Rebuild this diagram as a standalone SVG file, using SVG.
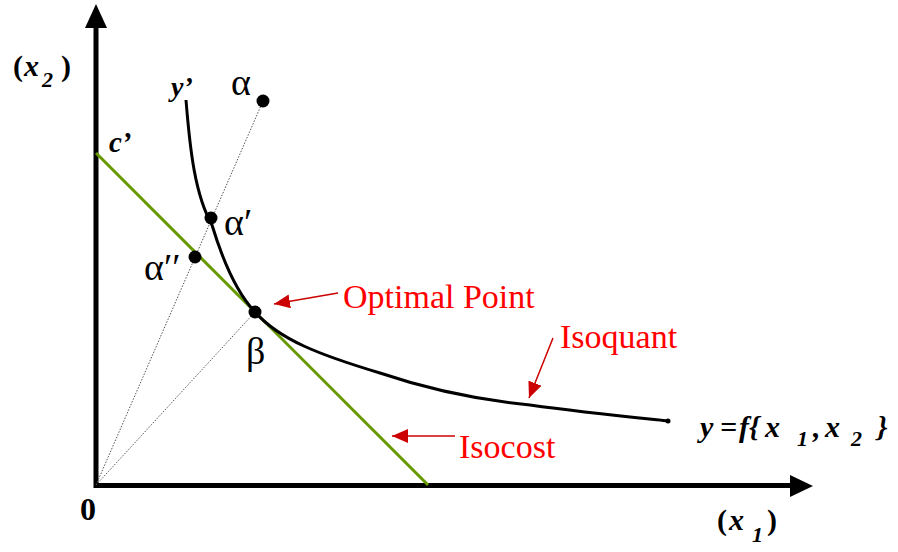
<svg xmlns="http://www.w3.org/2000/svg" width="898" height="552" viewBox="0 0 898 552">
<defs>
<style>
text{font-family:'Liberation Serif',serif}
.lab{font-weight:bold;font-style:italic;fill:#000}
.bold{font-weight:bold;fill:#000}
.greek{font-size:38px;fill:#000}
.red{font-size:34px;fill:#FF0000}
.dot{fill:#000}
.dotted{stroke:#555;stroke-width:1;stroke-dasharray:1.5 1.5;fill:none}
.redline{stroke:#CC0000;stroke-width:1.5;fill:none}
</style>
<marker id="rarrow2" viewBox="0 0 16 14" refX="16" refY="7" markerWidth="16" markerHeight="14" markerUnits="userSpaceOnUse" orient="auto">
<path d="M0,0 L16,7 L0,14 z" fill="#CC0000"/>
</marker>
</defs>
<rect width="898" height="552" fill="#fff"/>

<g id="axes">
<line x1="96" y1="488" x2="96" y2="24" stroke="#000" stroke-width="5"/>
<polygon points="96,4 85,28 107,28" fill="#000"/>
<line x1="94" y1="485.5" x2="792" y2="485.5" stroke="#000" stroke-width="5"/>
<polygon points="813,486 790,475 790,497" fill="#000"/>
<text class="bold" x="80" y="520" font-size="32">0</text>
<text class="bold" x="13" y="76" font-size="30">(<tspan x="24" font-style="italic">x</tspan><tspan x="42" y="87" font-size="22" font-style="italic">2</tspan><tspan x="61" y="76">)</tspan></text>
<text class="bold" x="717" y="530" font-size="30">(<tspan x="729" font-style="italic">x</tspan><tspan x="752" y="542" font-size="22" font-style="italic">1</tspan><tspan x="767" y="530">)</tspan></text>
</g>

<g id="connectors">
<line class="dotted" x1="96" y1="485" x2="263" y2="101"/>
<line class="dotted" x1="96" y1="485" x2="255" y2="312"/>
<line x1="96" y1="153" x2="428" y2="485" stroke="#669900" stroke-width="3"/>
<path d="M186,100 C190,150 195,195 212,225 C222,258 236,292 255,312 C280,340 320,355 380,373 C430,390 480,400 530,405 C580,412 620,416 668,421" stroke="#000" stroke-width="3" fill="none"/>
<circle cx="668" cy="421" r="2.5" class="dot"/>
<line class="redline" x1="338" y1="293" x2="274" y2="304" marker-end="url(#rarrow2)"/>
<line class="redline" x1="553" y1="338" x2="529" y2="398" marker-end="url(#rarrow2)"/>
<line class="redline" x1="455" y1="436" x2="392" y2="436" marker-end="url(#rarrow2)"/>
</g>

<g id="isocost">
<text class="lab" x="109" y="152" font-size="29">c’</text>
<text class="red" x="459" y="458">Isocost</text>
</g>

<g id="isoquant">
<text class="lab" x="171" y="96" font-size="28">y’</text>
<text class="red" x="560" y="348">Isoquant</text>
<text class="lab" x="700" y="437" font-size="30">y<tspan x="720">=</tspan><tspan x="739">f{</tspan><tspan x="765">x</tspan><tspan x="797" y="446" font-size="22">1</tspan><tspan x="813" y="437">,</tspan><tspan x="825" y="437">x</tspan><tspan x="851" y="446" font-size="22">2</tspan><tspan x="877" y="437">}</tspan></text>
</g>

<g id="alpha">
<circle cx="263" cy="101" r="6.5" class="dot"/>
<text class="greek" x="231" y="95">α</text>
</g>
<g id="alpha1">
<circle cx="211" cy="218" r="6.5" class="dot"/>
<text class="greek" x="224" y="235">α′</text>
</g>
<g id="alpha2">
<circle cx="195" cy="257" r="6.5" class="dot"/>
<text class="greek" x="144" y="280">α′′</text>
</g>
<g id="beta">
<circle cx="255" cy="312" r="6.5" class="dot"/>
<text class="greek" x="246" y="364">β</text>
<text class="red" x="343" y="308">Optimal Point</text>
</g>
</svg>
